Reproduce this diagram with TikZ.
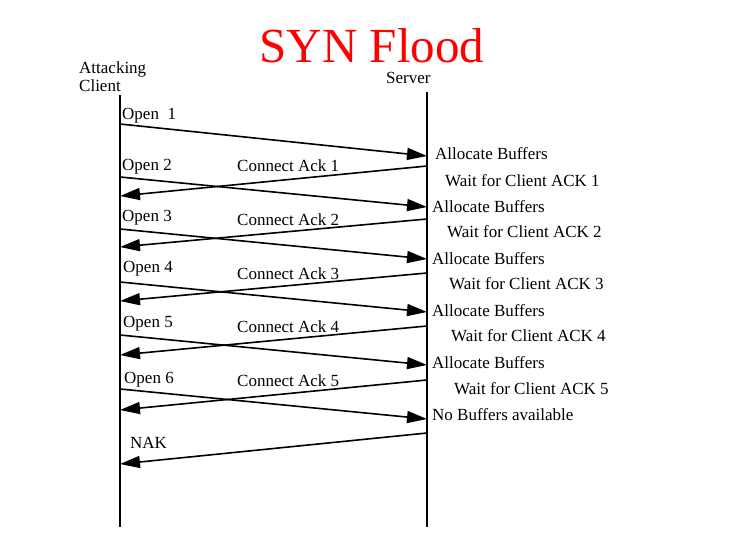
\documentclass[tikz,border=0pt]{standalone}
\usepackage{fontspec}
\setmainfont{Liberation Serif}
\usetikzlibrary{arrows.meta}
\begin{document}
\begin{tikzpicture}[x=1pt,y=-1pt,
  msg/.style={line width=1.6pt,-{Triangle[length=20pt,width=12pt]}},
  life/.style={line width=1.5pt},
  lbl/.style={anchor=west,inner sep=0pt,font=\fontsize{17}{18.5}\selectfont},
  ttl/.style={inner sep=0pt,text depth=0pt,text=red,font=\fontsize{49}{52}\selectfont}]
\useasboundingbox (0,0) rectangle (734,540);
% title and headings
\node[ttl] (title) at (372,46) {SYN Flood};
\node[lbl,align=left] (client) at (79,77) {Attacking\\[-0.8pt]Client};
\node[lbl] (server) at (386,78) {Server};
% lifelines
\coordinate (ctop) at (120,95);
\coordinate (cbot) at (120,527);
\coordinate (stop) at (427,92);
\coordinate (sbot) at (427,527);
\draw[life] (ctop) -- (cbot);
\draw[life] (stop) -- (sbot);
% endpoints
\foreach \i/\co/\so/\sa/\ca in {1/124/156/166/196, 2/177/207/219/247, 3/229/259/273/301, 4/282/312/326/355, 5/335/365/380/410}{
  \coordinate (co\i) at (120,\co);
  \coordinate (so\i) at (427,\so);
  \coordinate (sa\i) at (427,\sa);
  \coordinate (ca\i) at (120,\ca);
}
\coordinate (co6) at (120,389);
\coordinate (so6) at (427,419);
\coordinate (sn) at (427,433);
\coordinate (cn) at (120,464);
% messages
\foreach \i in {1,...,6}{ \draw[msg] (co\i) -- (so\i); }
\foreach \i in {1,...,5}{ \draw[msg] (sa\i) -- (ca\i); }
\draw[msg] (sn) -- (cn);
% labels client side
\node[lbl] (o1) at (122,116) {Open\ \ 1};
\node[lbl] (o2) at (122,167) {Open 2};
\node[lbl] (o3) at (122,218) {Open 3};
\node[lbl] (o4) at (123,269) {Open 4};
\node[lbl] (o5) at (123,324) {Open 5};
\node[lbl] (o6) at (124,380) {Open 6};
\node[lbl] (nak) at (130,443) {NAK};
% connect ack labels
\node[lbl] (k1) at (237,166) {Connect Ack 1};
\node[lbl] (k2) at (237,220) {Connect Ack 2};
\node[lbl] (k3) at (237,274) {Connect Ack 3};
\node[lbl] (k4) at (237,327) {Connect Ack 4};
\node[lbl] (k5) at (237,381) {Connect Ack 5};
% server side labels
\node[lbl] (a1) at (435,154) {Allocate Buffers};
\node[lbl] (w1) at (445,181) {Wait for Client ACK 1};
\node[lbl] (a2) at (432,207) {Allocate Buffers};
\node[lbl] (w2) at (447,232) {Wait for Client ACK 2};
\node[lbl] (a3) at (432,259) {Allocate Buffers};
\node[lbl] (w3) at (449,284) {Wait for Client ACK 3};
\node[lbl] (a4) at (432,311) {Allocate Buffers};
\node[lbl] (w4) at (451,336) {Wait for Client ACK 4};
\node[lbl] (a5) at (432,363) {Allocate Buffers};
\node[lbl] (w5) at (454,389) {Wait for Client ACK 5};
\node[lbl] (nb) at (432,415) {No Buffers available};
\end{tikzpicture}
\end{document}
